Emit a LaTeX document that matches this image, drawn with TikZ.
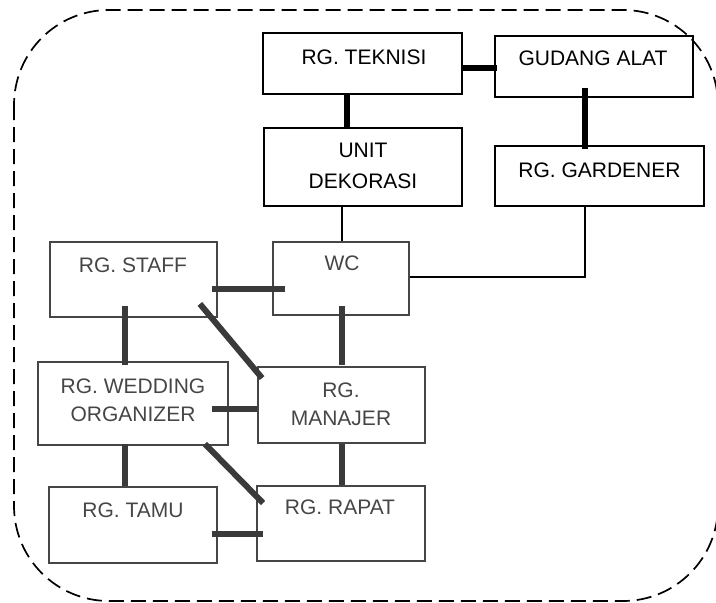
\documentclass[tikz,border=0pt]{standalone}
\usepackage{fontspec}
\setmainfont{Liberation Sans}
\usetikzlibrary{calc}
\definecolor{wallink}{RGB}{58,58,58}
\definecolor{roomgray}{RGB}{70,70,70}

\begin{document}
\begin{tikzpicture}[x=1pt,y=-1pt,line join=miter,
  room/.style={draw,line width=1.8pt,inner sep=0pt},
  door/.style={line width=5.5pt},
  tag/.style={font=\fontsize{21}{28}\selectfont,align=center,inner sep=0pt}]
  \useasboundingbox (0,0) rectangle (716,603);
  \draw[line width=1.7pt,dash pattern=on 15pt off 7pt,rounded corners=95pt] (14,10) rectangle (718,601);
  % upper block
  \node[room,minimum width=199pt,minimum height=61pt] (teknisi) at (362.5,63.5) {};
  \node[room,minimum width=198pt,minimum height=61pt] (gudang) at (594,66.5) {};
  \node[room,minimum width=198pt,minimum height=78pt] (unit) at (363,167) {};
  \node[room,minimum width=209pt,minimum height=60pt] (gardener) at (599.5,176) {};
  \node[tag] (teknisi-t) at (364,57) {RG. TEKNISI}; \node[tag] (gudang-t) at (593,58) {GUDANG ALAT};
  \node[tag,font=\fontsize{21}{31}\selectfont] (unit-t) at (363,165.5) {UNIT\\DEKORASI};
  \node[tag] (gardener-t) at (599.5,170) {RG. GARDENER};
  % lower block
  \begin{scope}[roomgray]
  \node[room,minimum width=167pt,minimum height=75pt] (staff) at (133.5,279.5) {};
  \node[room,minimum width=136pt,minimum height=73pt] (wc) at (341,278.5) {};
  \node[room,minimum width=190pt,minimum height=83pt] (wedding) at (133,403.5) {};
  \node[room,minimum width=167pt,minimum height=76pt] (manajer) at (341.5,405) {};
  \node[room,minimum width=168pt,minimum height=76pt] (tamu) at (133,525) {};
  \node[room,minimum width=168pt,minimum height=75pt] (rapat) at (341,523.5) {};
  \node[tag] (staff-t) at (133,265) {RG. STAFF}; \node[tag] (wc-t) at (342,263) {WC};
  \node[tag] (wedding-t) at (133,400) {RG. WEDDING\\ORGANIZER};
  \node[tag] (manajer-t) at (341,404) {RG.\\MANAJER};
  \node[tag] (tamu-t) at (133,510) {RG. TAMU}; \node[tag] (rapat-t) at (340,507) {RG. RAPAT};
  \end{scope}
  % connections
  \draw[door] ($(teknisi.east)+(0,4.5)$) -- ($(gudang.west)+(3,1.5)$);
  \draw[door] ($(teknisi.south)+(-15.5,0)$) -- ($(unit.north)+(-16,0)$);
  \draw[door,line width=6pt] ($(gudang.south)+(-9,-10)$) -- ($(gardener.north)+(-14.5,4)$);
  \draw[line width=2pt] ($(unit.south)+(-21,0)$) -- ($(wc.north)+(1,0)$);
  \draw[line width=2pt] ($(gardener.south)+(-14.5,0)$) |- ($(wc.east)+(0,-1.5)$);
  \begin{scope}[wallink,door,line width=6pt]
  \draw ($(staff.east)+(-6,9.5)$) -- ($(wc.west)+(13,10.5)$);
  \draw ($(staff.south)+(-8.5,-12)$) -- ($(wedding.north)+(-8,4)$);
  \draw ($(staff.south east)+(-18,-14)$) -- ($(manajer.north west)+(5,12)$);
  \draw ($(wc.south)+(1,-10)$) -- ($(manajer.north)+(0.5,-1)$);
  \draw ($(wedding.east)+(-17,5.5)$) -- ($(manajer.west)+(0,4)$);
  \draw ($(wedding.south)+(-8,-2)$) -- ($(tamu.north)+(-8,0)$);
  \draw ($(wedding.south east)+(-24,-2)$) -- ($(rapat.north west)+(7,18)$);
  \draw ($(manajer.south)+(0.5,0)$) -- ($(rapat.north)+(1,0)$);
  \draw ($(tamu.east)+(-6,9)$) -- ($(rapat.west)+(7,10.5)$);
  \end{scope}
\end{tikzpicture}
\end{document}
